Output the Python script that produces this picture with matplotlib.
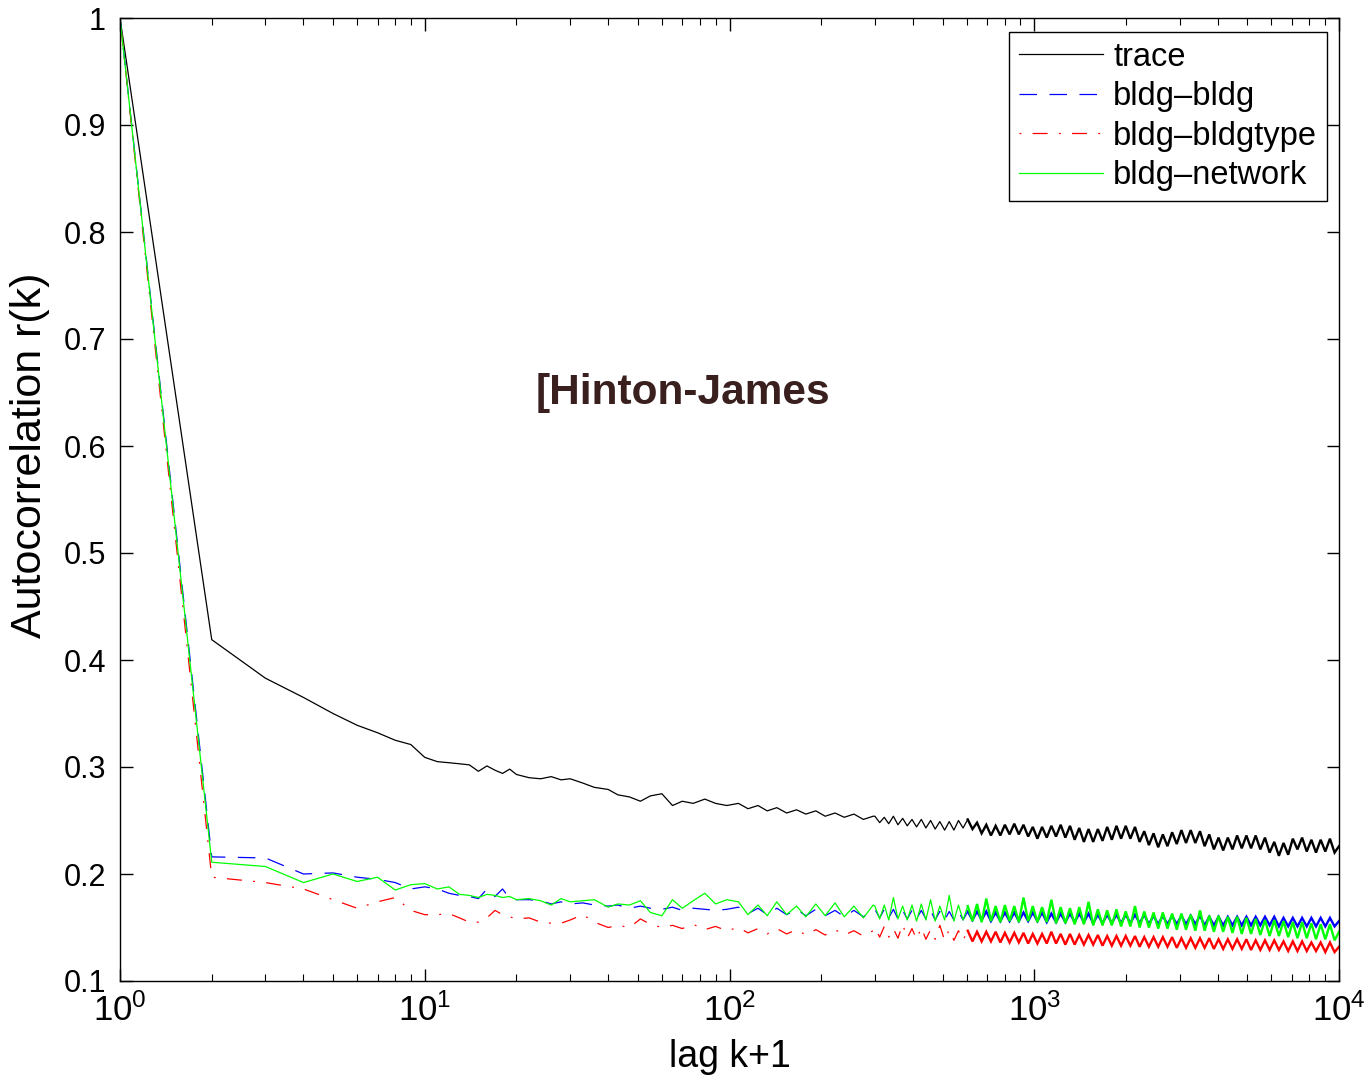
import matplotlib
matplotlib.use("Agg")
import matplotlib.pyplot as plt
from matplotlib.ticker import LogLocator, FixedLocator, FixedFormatter, NullFormatter

plt.rcParams['font.family'] = ['Liberation Sans', 'DejaVu Sans']

# ---------------- data ----------------
lags = [
    1, 2, 3, 4, 5, 6, 7, 8, 9, 10, 11, 12, 13, 14, 15, 16, 17, 18, 19, 20,
    22, 24, 26, 28, 30, 33, 36, 40, 43, 47, 51, 55, 60, 65, 70, 76, 83, 90, 98,
    107, 115, 124, 133, 143, 154, 166, 178, 192, 206, 222, 238, 256, 275, 296,
    300, 311, 322, 333, 345, 357, 370, 383, 397, 411,
    426, 441, 457, 473, 490, 508, 526, 545, 564, 584,
    605, 627, 649, 672, 696, 721, 747, 774, 801, 830,
    860, 890, 922, 955, 989, 1024, 1061, 1099, 1138, 1179,
    1221, 1265, 1310, 1357, 1405, 1455, 1507, 1561, 1617, 1675,
    1735, 1797, 1861, 1927, 1996, 2067, 2141, 2217, 2296, 2378,
    2463, 2551, 2642, 2736, 2834, 2935, 3040, 3148, 3261, 3377,
    3498, 3623, 3752, 3886, 4025, 4168, 4317, 4471, 4631, 4796,
    4967, 5145, 5328, 5519, 5716, 5920, 6131, 6350, 6576, 6811,
    7054, 7306, 7567, 7837, 8117, 8406, 8706, 9017, 9338, 9672, 10000,
]

trace = [
    1.000, 0.419, 0.383, 0.365, 0.350, 0.339, 0.332, 0.325, 0.321, 0.309,
    0.305, 0.304, 0.303, 0.302, 0.296, 0.301, 0.297, 0.294, 0.298, 0.293,
    0.290, 0.289, 0.291, 0.288, 0.289, 0.285, 0.281, 0.279, 0.274, 0.272,
    0.268, 0.273, 0.275, 0.264, 0.268, 0.266, 0.270, 0.266, 0.264,
    0.266, 0.261, 0.264, 0.259, 0.262, 0.257, 0.260, 0.256, 0.259, 0.254,
    0.257, 0.253, 0.256, 0.251, 0.254,
    0.254, 0.248, 0.253, 0.247, 0.254, 0.246, 0.252, 0.245, 0.251, 0.244,
    0.251, 0.243, 0.250, 0.242, 0.249, 0.241, 0.249, 0.241, 0.250, 0.243,
    0.251, 0.242, 0.248, 0.238, 0.246, 0.236, 0.245, 0.236, 0.246, 0.237,
    0.247, 0.237, 0.246, 0.235, 0.244, 0.233, 0.244, 0.234, 0.245, 0.235,
    0.246, 0.234, 0.245, 0.232, 0.243, 0.230, 0.242, 0.230, 0.242, 0.231,
    0.244, 0.232, 0.245, 0.233, 0.245, 0.233, 0.244, 0.230, 0.240, 0.227,
    0.238, 0.225, 0.237, 0.226, 0.239, 0.228, 0.241, 0.229, 0.241, 0.229,
    0.240, 0.226, 0.237, 0.223, 0.234, 0.222, 0.234, 0.223, 0.236, 0.224,
    0.236, 0.224, 0.236, 0.223, 0.234, 0.220, 0.230, 0.217, 0.229, 0.218,
    0.233, 0.223, 0.234, 0.221, 0.232, 0.220, 0.232, 0.221, 0.233, 0.220, 0.226,
]

bldg_bldg = [
    1.000, 0.216, 0.215, 0.200, 0.201, 0.197, 0.195, 0.192, 0.186, 0.188,
    0.186, 0.182, 0.180, 0.179, 0.177, 0.186, 0.179, 0.186, 0.177, 0.176,
    0.176, 0.175, 0.172, 0.174, 0.172, 0.173, 0.171, 0.170, 0.171, 0.168,
    0.170, 0.168, 0.167, 0.169, 0.166, 0.168, 0.167, 0.166, 0.167,
    0.169, 0.163, 0.168, 0.162, 0.168, 0.162, 0.167, 0.161, 0.167, 0.161,
    0.166, 0.160, 0.166, 0.160, 0.166,
    0.167, 0.159, 0.167, 0.159, 0.167, 0.158, 0.166, 0.158, 0.166, 0.158,
    0.166, 0.158, 0.166, 0.157, 0.165, 0.157, 0.165, 0.157, 0.165, 0.157,
    0.165, 0.157, 0.165, 0.157, 0.165, 0.156, 0.164, 0.156, 0.164, 0.156,
    0.164, 0.156, 0.164, 0.156, 0.164, 0.156, 0.164, 0.155, 0.163, 0.155,
    0.163, 0.155, 0.163, 0.155, 0.163, 0.155, 0.163, 0.154, 0.162, 0.154,
    0.162, 0.154, 0.162, 0.154, 0.162, 0.154, 0.162, 0.154, 0.162, 0.153,
    0.161, 0.153, 0.161, 0.153, 0.161, 0.153, 0.161, 0.153, 0.161, 0.153,
    0.161, 0.152, 0.160, 0.152, 0.160, 0.152, 0.160, 0.152, 0.160, 0.152,
    0.160, 0.152, 0.160, 0.152, 0.160, 0.152, 0.160, 0.151, 0.159, 0.151,
    0.159, 0.151, 0.159, 0.151, 0.159, 0.151, 0.159, 0.151, 0.159, 0.151, 0.156,
]

bldg_bldgtype = [
    1.000, 0.197, 0.192, 0.186, 0.176, 0.168, 0.174, 0.178, 0.166, 0.162,
    0.162, 0.163, 0.159, 0.155, 0.155, 0.159, 0.166, 0.162, 0.160, 0.158,
    0.159, 0.155, 0.154, 0.154, 0.157, 0.162, 0.155, 0.150, 0.152, 0.150,
    0.158, 0.153, 0.150, 0.152, 0.149, 0.153, 0.148, 0.151, 0.147,
    0.150, 0.145, 0.149, 0.144, 0.149, 0.144, 0.148, 0.143, 0.148, 0.143,
    0.148, 0.143, 0.147, 0.142, 0.147,
    0.150, 0.141, 0.151, 0.141, 0.149, 0.140, 0.153, 0.140, 0.149, 0.139,
    0.150, 0.139, 0.148, 0.139, 0.152, 0.138, 0.148, 0.138, 0.147, 0.138,
    0.147, 0.137, 0.146, 0.137, 0.146, 0.137, 0.146, 0.136, 0.145, 0.136,
    0.145, 0.136, 0.145, 0.135, 0.144, 0.135, 0.144, 0.135, 0.146, 0.135,
    0.144, 0.134, 0.144, 0.134, 0.143, 0.134, 0.143, 0.134, 0.143, 0.133,
    0.142, 0.133, 0.142, 0.133, 0.142, 0.133, 0.142, 0.132, 0.141, 0.132,
    0.141, 0.132, 0.141, 0.132, 0.141, 0.131, 0.140, 0.131, 0.140, 0.131,
    0.140, 0.131, 0.140, 0.130, 0.139, 0.130, 0.139, 0.130, 0.139, 0.130,
    0.139, 0.129, 0.138, 0.129, 0.138, 0.129, 0.138, 0.129, 0.137, 0.128,
    0.137, 0.128, 0.137, 0.128, 0.136, 0.128, 0.136, 0.127, 0.136, 0.127, 0.132,
]

bldg_network = [
    1.000, 0.211, 0.207, 0.192, 0.200, 0.193, 0.197, 0.185, 0.190, 0.191,
    0.186, 0.188, 0.181, 0.180, 0.178, 0.181, 0.180, 0.178, 0.179, 0.176,
    0.177, 0.175, 0.171, 0.177, 0.174, 0.175, 0.176, 0.169, 0.172, 0.171,
    0.175, 0.164, 0.161, 0.176, 0.168, 0.175, 0.182, 0.172, 0.176,
    0.174, 0.162, 0.171, 0.161, 0.174, 0.162, 0.170, 0.160, 0.172, 0.161,
    0.173, 0.160, 0.170, 0.159, 0.171,
    0.170, 0.158, 0.171, 0.157, 0.178, 0.158, 0.170, 0.157, 0.171, 0.156,
    0.172, 0.157, 0.176, 0.156, 0.170, 0.157, 0.180, 0.156, 0.171, 0.157,
    0.170, 0.156, 0.172, 0.155, 0.177, 0.156, 0.170, 0.155, 0.171, 0.156,
    0.170, 0.155, 0.178, 0.156, 0.170, 0.155, 0.169, 0.155, 0.176, 0.154,
    0.169, 0.154, 0.168, 0.153, 0.169, 0.153, 0.174, 0.152, 0.167, 0.152,
    0.166, 0.152, 0.167, 0.151, 0.165, 0.151, 0.170, 0.150, 0.165, 0.150,
    0.164, 0.149, 0.164, 0.149, 0.163, 0.148, 0.163, 0.148, 0.162, 0.147,
    0.166, 0.147, 0.161, 0.146, 0.161, 0.146, 0.160, 0.145, 0.160, 0.144,
    0.159, 0.144, 0.158, 0.143, 0.157, 0.142, 0.157, 0.142, 0.156, 0.141,
    0.155, 0.140, 0.155, 0.140, 0.154, 0.139, 0.153, 0.139, 0.153, 0.138, 0.146,
]

series_labels = ["trace", "bldg\u2013bldg", "bldg\u2013bldgtype", "bldg\u2013network"]
ytick_vals = [0.1, 0.2, 0.3, 0.4, 0.5, 0.6, 0.7, 0.8, 0.9, 1.0]
ytick_labels = ["0.1", "0.2", "0.3", "0.4", "0.5", "0.6", "0.7", "0.8", "0.9", "1"]
annotation = "[Hinton-James"

# ---------------- figure ----------------
fig = plt.figure(figsize=(13.69, 10.80), dpi=100)
ax = fig.add_axes([120 / 1369, 1 - 981 / 1080, (1339 - 120) / 1369, (981 - 18) / 1080])

# index where the densely sampled tail (lag >= ~600) begins
tail = lags.index(605)

colors = ["black", "#0000ff", "#ff0000", "#00ff00"]
styles = ["-", (0, (14, 10)), (0, (1.5, 9, 12, 9)), "-"]
data = [trace, bldg_bldg, bldg_bldgtype, bldg_network]

lw = 0.9
for vals, c, ls, lab in zip(data, colors, styles, series_labels):
    ax.plot(lags[:tail + 1], vals[:tail + 1], color=c, lw=lw, linestyle=ls, label=lab)
    ax.plot(lags[tail:], vals[tail:], color=c, lw=1.7, linestyle="-",
            solid_joinstyle="miter")

ax.set_xscale("log")
ax.set_xlim(1, 10000)
ax.set_ylim(0.1, 1.0)
ax.xaxis.set_major_locator(LogLocator(base=10, numticks=10))
ax.xaxis.set_minor_locator(LogLocator(base=10, subs=(2, 3, 4, 5, 6, 7, 8, 9), numticks=20))
ax.xaxis.set_minor_formatter(NullFormatter())
ax.yaxis.set_major_locator(FixedLocator(ytick_vals))
ax.yaxis.set_major_formatter(FixedFormatter(ytick_labels))

ax.tick_params(axis="both", which="major", direction="in", length=9, width=1,
               top=True, right=True, pad=8)
ax.tick_params(axis="y", which="major", labelsize=22, pad=10)
ax.tick_params(axis="x", which="major", labelsize=25, pad=9)
ax.tick_params(axis="x", which="minor", direction="in", length=5, width=0.8,
               top=True, bottom=True)
for s in ax.spines.values():
    s.set_linewidth(1.0)

ax.set_xlabel("lag k+1", fontsize=27, labelpad=8)
ax.set_ylabel("Autocorrelation r(k)", fontsize=31)
ax.yaxis.set_label_coords((50 - 120) / 1219, (981 - 455) / 963)

ax.text((683 - 120) / 1219, (981 - 393) / 963, annotation, transform=ax.transAxes,
        fontsize=30.5, fontweight="bold", color="#3a1f1f", ha="center", va="center")

leg = ax.legend(loc="upper right", bbox_to_anchor=(1207 / 1219, (981 - 32) / 963), fontsize=23.5,
                frameon=True, fancybox=False, edgecolor="black", framealpha=1,
                handlelength=2.6, handletextpad=0.3, labelspacing=0.26,
                borderpad=0.3, borderaxespad=0)
leg.get_frame().set_linewidth(1.0)

fig.savefig("out.png", dpi=100, facecolor="white")
